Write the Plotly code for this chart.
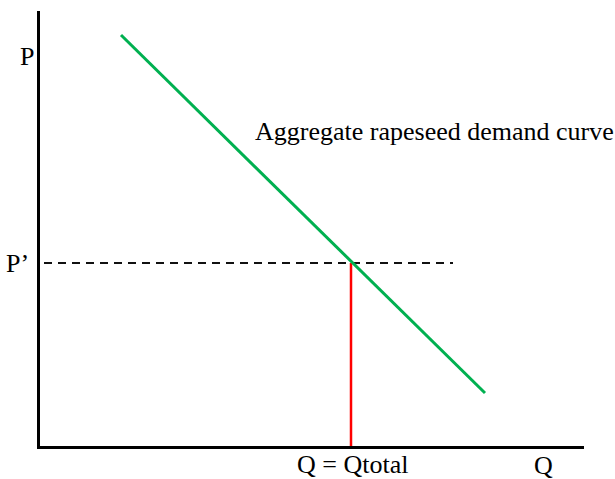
import plotly.graph_objects as go

# Data (quantity / price units on the chart's own axes)
demand_q = [81, 445]
demand_p = [411, 53]
eq_q = 311
eq_p = 183
price_line_q = [4, 413]
axis_q_max = 544
axis_p_max = 435

fig = go.Figure()

fig.add_trace(go.Scatter(x=price_line_q, y=[eq_p, eq_p], mode="lines",
                         line=dict(color="#111111", width=2, dash="8px,6px"),
                         hoverinfo="skip"))
fig.add_trace(go.Scatter(x=[eq_q, eq_q], y=[0, eq_p], mode="lines",
                         line=dict(color="#FF0000", width=2.5), hoverinfo="skip"))
fig.add_trace(go.Scatter(x=demand_q, y=demand_p, mode="lines",
                         line=dict(color="#00B050", width=3), hoverinfo="skip"))

font = dict(family="Liberation Serif, Times New Roman, serif", size=26, color="black")

ann = [
    dict(text="P", x=-0.023, y=0.895, xanchor="center", yanchor="middle"),
    dict(text="P’", x=-0.016, y=0.42, xanchor="right", yanchor="middle"),
    dict(text="Q = Qtotal", x=0.575, y=-0.042, xanchor="center", yanchor="middle"),
    dict(text="Q", x=0.925, y=-0.044, xanchor="center", yanchor="middle"),
    dict(text="Aggregate rapeseed demand curve", x=0.391, y=0.723, xanchor="left", yanchor="middle"),
]
for a in ann:
    fig.add_annotation(xref="paper", yref="paper", showarrow=False, font=font, **a)

fig.update_layout(
    width=615, height=479,
    margin=dict(l=40, r=31, t=11, b=33),
    paper_bgcolor="white", plot_bgcolor="white",
    showlegend=False,
    xaxis=dict(range=[0, axis_q_max], showgrid=False, zeroline=False, showticklabels=False,
               ticks="", showline=True, linecolor="black", linewidth=2.5, fixedrange=True),
    yaxis=dict(range=[0, axis_p_max], showgrid=False, zeroline=False, showticklabels=False,
               ticks="", showline=True, linecolor="black", linewidth=2.5, fixedrange=True),
)

fig.write_html("out.html", config={"displayModeBar": False},
               post_script="document.body.style.margin='0';document.body.style.overflow='hidden';")
